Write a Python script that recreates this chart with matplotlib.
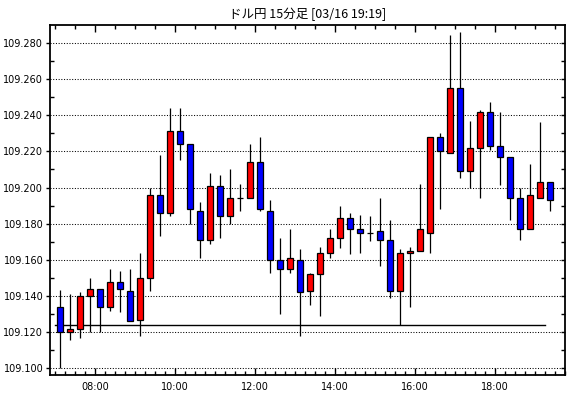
import matplotlib
matplotlib.use('Agg')
import matplotlib.pyplot as plt
from matplotlib.patches import Rectangle
from matplotlib.ticker import MultipleLocator, FuncFormatter

title = "ドル円 15分足 [03/16 19:19]"

times = ["07:00", "07:15", "07:30", "07:45", "08:00", "08:15", "08:30", "08:45",
         "09:00", "09:15", "09:30", "09:45", "10:00", "10:15", "10:30", "10:45",
         "11:00", "11:15", "11:30", "11:45", "12:00", "12:15", "12:30", "12:45",
         "13:00", "13:15", "13:30", "13:45", "14:00", "14:15", "14:30", "14:45",
         "15:00", "15:15", "15:30", "15:45", "16:00", "16:15", "16:30", "16:45",
         "17:00", "17:15", "17:30", "17:45", "18:00", "18:15", "18:30", "18:45",
         "19:00", "19:15"]

opens = [109.134, 109.120, 109.122, 109.140, 109.144, 109.134, 109.148, 109.143,
         109.127, 109.150, 109.196, 109.186, 109.231, 109.224, 109.187, 109.171,
         109.201, 109.184, 109.194, 109.194, 109.214, 109.187, 109.160, 109.155,
         109.160, 109.143, 109.152, 109.164, 109.172, 109.183, 109.177, 109.175,
         109.176, 109.171, 109.143, 109.164, 109.165, 109.175, 109.228, 109.219,
         109.255, 109.209, 109.222, 109.242, 109.223, 109.217, 109.194, 109.177,
         109.194, 109.203]
highs = [109.1435, 109.141, 109.142, 109.150, 109.144, 109.155, 109.154, 109.155,
         109.164, 109.200, 109.218, 109.244, 109.244, 109.224, 109.192, 109.208,
         109.207, 109.210, 109.202, 109.224, 109.228, 109.193, 109.172, 109.177,
         109.166, 109.153, 109.167, 109.177, 109.190, 109.186, 109.185, 109.184,
         109.194, 109.182, 109.166, 109.167, 109.202, 109.228, 109.230, 109.284,
         109.286, 109.237, 109.243, 109.247, 109.242, 109.217, 109.200, 109.213,
         109.236, 109.203]
lows = [109.100, 109.116, 109.117, 109.120, 109.120, 109.132, 109.131, 109.126,
        109.118, 109.143, 109.173, 109.184, 109.2154, 109.180, 109.161, 109.169,
        109.172, 109.180, 109.187, 109.194, 109.187, 109.153, 109.130, 109.153,
        109.118, 109.135, 109.129, 109.161, 109.1665, 109.163, 109.164, 109.1706,
        109.1565, 109.139, 109.124, 109.134, 109.165, 109.164, 109.188, 109.219,
        109.205, 109.200, 109.194, 109.221, 109.2015, 109.182, 109.171, 109.177,
        109.194, 109.187]
closes = [109.120, 109.122, 109.140, 109.144, 109.134, 109.148, 109.144, 109.126,
          109.150, 109.196, 109.186, 109.231, 109.224, 109.188, 109.171, 109.201,
          109.184, 109.194, 109.194, 109.214, 109.188, 109.160, 109.155, 109.161,
          109.142, 109.152, 109.164, 109.172, 109.183, 109.177, 109.175, 109.175,
          109.171, 109.143, 109.164, 109.165, 109.177, 109.228, 109.220, 109.255,
          109.209, 109.222, 109.242, 109.223, 109.217, 109.194, 109.177, 109.196,
          109.203, 109.193]

ref_level = 109.124
ref_from, ref_to = "07:00", "19:15"

y_grid = [109.100, 109.120, 109.140, 109.160, 109.180, 109.200, 109.220, 109.240, 109.260, 109.280]
x_labels_hours = [8, 10, 12, 14, 16, 18]


def to_hours(t):
    hh, mm = t.split(":")
    return int(hh) + int(mm) / 60.0


W, H = 570, 398
fig = plt.figure(figsize=(W / 100, H / 100), dpi=100)
fig.patch.set_facecolor("white")
L, R, T, B = 49.5, 565, 25, 375
ax = fig.add_axes([L / W, (H - B) / H, (R - L) / W, (B - T) / H])

ax.set_xlim(6.8625, 19.75)
ax.set_ylim(109.0964, 109.2898)

half = 0.125  # half of the 15-minute interval, in hours
body_w = 0.165

for t, o, h, l, c in zip(times, opens, highs, lows, closes):
    xc = to_hours(t) + half
    ax.plot([xc, xc], [l, h], color="black", lw=0.9, zorder=3, solid_capstyle="butt")
    color = "#ff0000" if c >= o else "#0000ff"
    bottom = min(o, c)
    height = abs(c - o)
    ax.add_patch(Rectangle((xc - body_w / 2, bottom), body_w, height,
                           facecolor=color, edgecolor="black", lw=0.9, zorder=4))

for g in y_grid:
    ax.axhline(g, color="black", lw=0.75, linestyle=(0, (1, 1.6)), zorder=1)

ax.plot([to_hours(ref_from), to_hours(ref_to)], [ref_level, ref_level],
        color="black", lw=1.0, zorder=2)

for s in ax.spines.values():
    s.set_linewidth(1.3)

ax.xaxis.set_major_locator(plt.FixedLocator(x_labels_hours))
ax.xaxis.set_minor_locator(MultipleLocator(0.25))
ax.xaxis.set_major_formatter(FuncFormatter(lambda v, p: "%02d:00" % int(round(v))))
ax.tick_params(axis="x", which="major", direction="in", length=5, width=1,
               labelsize=7, pad=5, top=False)
ax.tick_params(axis="x", which="minor", direction="in", length=3, width=1, top=False)

ax.yaxis.set_major_locator(plt.FixedLocator(y_grid))
ax.yaxis.set_minor_locator(MultipleLocator(0.010))
ax.yaxis.set_major_formatter(FuncFormatter(lambda v, p: "%.3f" % v))
ax.tick_params(axis="y", which="major", direction="out", length=3, width=1,
               labelsize=7, pad=1.5, right=False)
ax.tick_params(axis="y", which="minor", direction="in", length=3, width=1, right=False)

top = ax.secondary_xaxis("top")
top.xaxis.set_major_locator(plt.FixedLocator(x_labels_hours))
top.xaxis.set_minor_locator(MultipleLocator(0.5))
top.tick_params(which="major", direction="in", length=5, width=1, labeltop=False)
top.tick_params(which="minor", direction="in", length=3, width=1)
top.spines["top"].set_visible(False)

right = ax.secondary_yaxis("right")
right.yaxis.set_major_locator(MultipleLocator(0.010))
right.tick_params(which="major", direction="in", length=3, width=1, labelright=False)
right.spines["right"].set_visible(False)

for lab in ax.get_xticklabels() + ax.get_yticklabels():
    lab.set_family("DejaVu Sans")

fig.text((L + R) / 2 / W, 1 - 14 / H, title, ha="center", va="center", fontsize=9,
         family=["Noto Sans CJK JP", "DejaVu Sans"])

fig.savefig("out.png", dpi=100, facecolor="white")
